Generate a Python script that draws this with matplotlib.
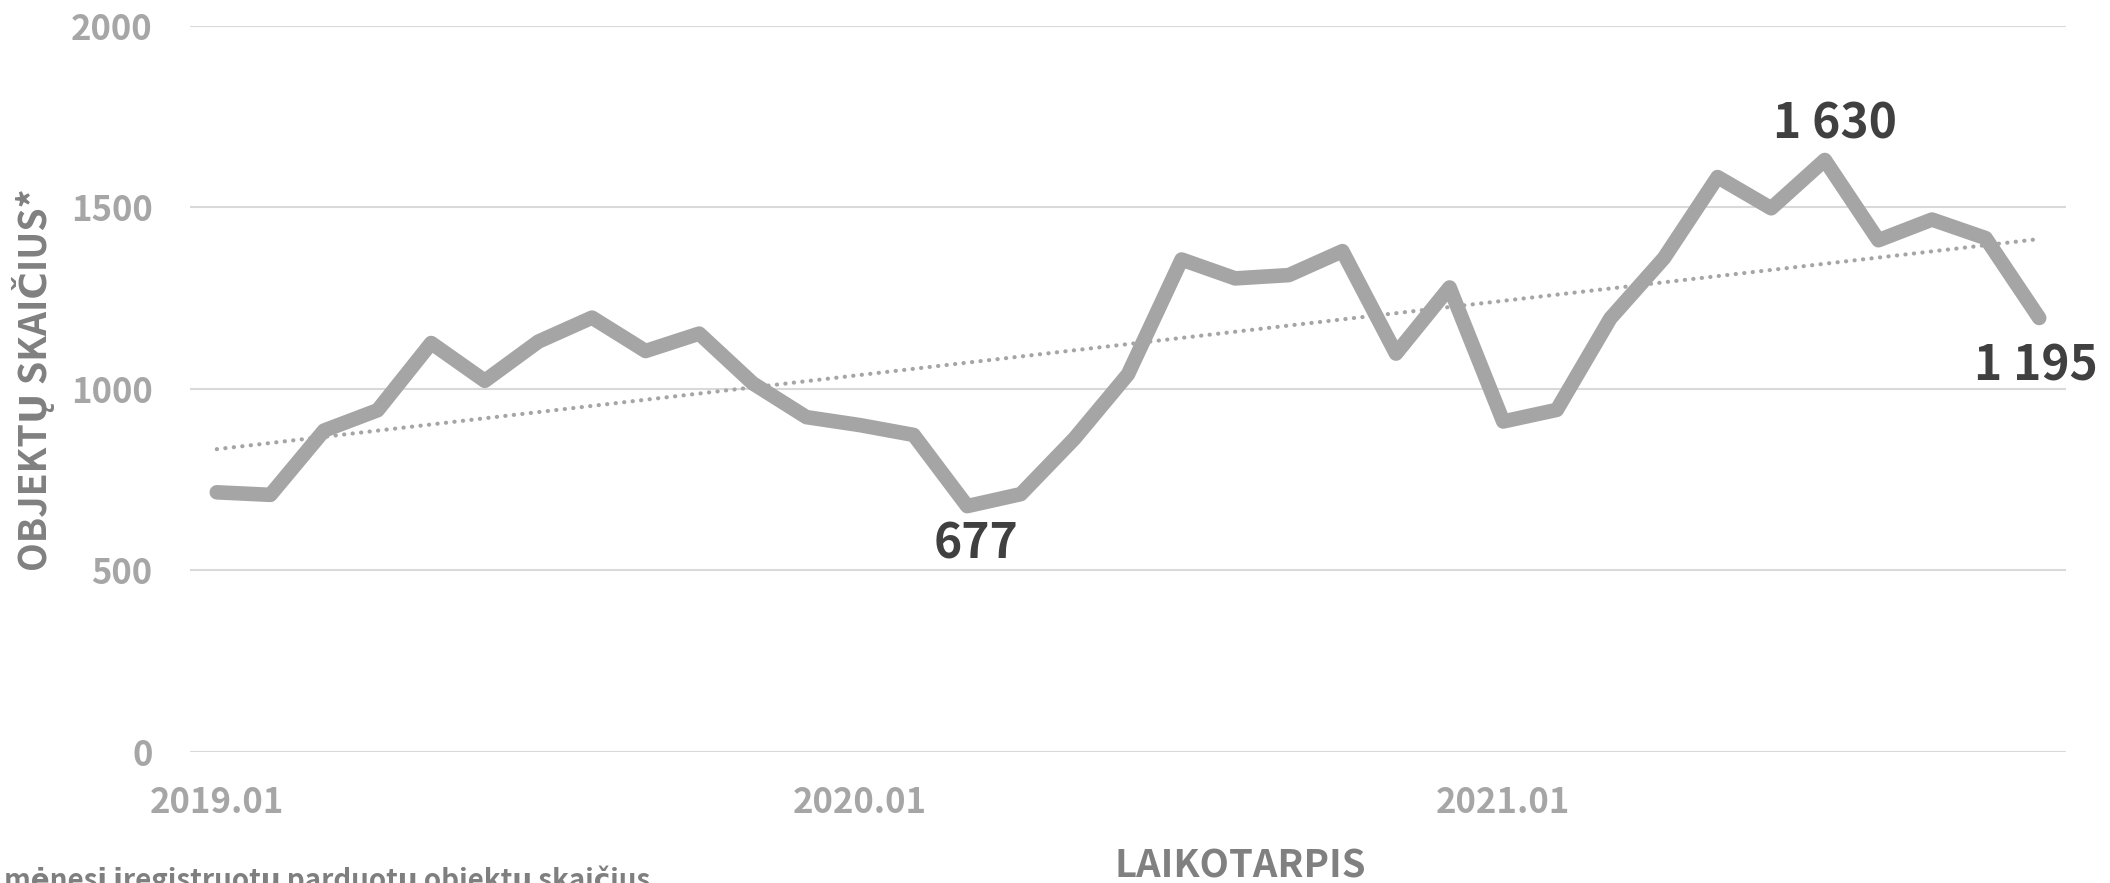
import numpy as np
import matplotlib
matplotlib.use("Agg")
import matplotlib.pyplot as plt

plt.rcParams['font.family'] = ['Noto Sans CJK SC', 'DejaVu Sans']

# ---- data ----
months = [f"{y}.{m:02d}" for y in (2019, 2020, 2021) for m in range(1, 13)][:35]
values = [715, 708, 885, 941, 1126, 1022, 1130, 1196, 1104, 1152, 1015, 922,
          900, 873, 677, 710, 863, 1040, 1356, 1304, 1313, 1379, 1097, 1279,
          910, 942, 1194, 1360, 1583, 1497, 1630, 1409, 1466, 1415, 1195]
tick_labels = ["2019.01", "2020.01", "2021.01"]
yticks = [0, 500, 1000, 1500, 2000]
annotated = {14: "677", 30: "1 630", 34: "1 195"}

W, H = 2110, 883
fig = plt.figure(figsize=(W / 100, H / 100), dpi=100)
ax = fig.add_axes([190 / W, 1 - 752 / H, (2066 - 190) / W, (752 - 25.6) / H])

x = np.arange(len(values))
GRAY = "#A5A5A5"

for yv in yticks:
    ax.axhline(yv, color="#D9D9D9", lw=1.5, zorder=0)

coef = np.polyfit(x, values, 1)
ax.plot(x, np.polyval(coef, x), color=GRAY, lw=3.0, linestyle=(0, (0.05, 2.0)),
        dash_capstyle='round', zorder=1)
ax.plot(x, values, color=GRAY, lw=10.5, solid_capstyle='round', solid_joinstyle='round', zorder=2)

ax.set_xlim(-0.5, len(values) - 0.5)
ax.set_ylim(0, 2000)
for s in ax.spines.values():
    s.set_visible(False)
ax.set_xticks([months.index(t) for t in tick_labels])
ax.set_xticklabels(tick_labels)
ax.set_yticks(yticks)
ax.set_yticklabels([str(v) for v in yticks])
ax.tick_params(length=0, labelsize=25, labelcolor="#A6A6A6")
for lab in ax.get_xticklabels() + ax.get_yticklabels():
    lab.set_fontweight('bold')
ax.tick_params(axis='x', pad=24)
ax.tick_params(axis='y', pad=27)

# annotation label centres (pixels from top-left)
ann_pos = {14: (976, 544), 30: (1835, 124), 34: (2036, 366)}
for i, txt in annotated.items():
    px, py = ann_pos[i]
    fig.text(px / W, 1 - py / H, txt, ha='center', va='center', fontsize=34.5,
             fontweight='bold', color="#404040")

fig.text(1240 / W, 1 - 866 / H, "LAIKOTARPIS", ha='center', va='center', fontsize=27.5,
         fontweight='bold', color="#808080")
fig.text(34 / W, 1 - 380 / H, "OBJEKTŲ SKAIČIUS*", ha='center', va='center', fontsize=27,
         fontweight='bold', color="#808080", rotation=90)
fig.text(650 / W, 1 - 889 / H, "mėnesį įregistruotų parduotų objektų skaičius", ha='right',
         va='baseline', fontsize=20, fontweight='bold', color="#7F7F7F")

fig.savefig("out.png", dpi=100)
